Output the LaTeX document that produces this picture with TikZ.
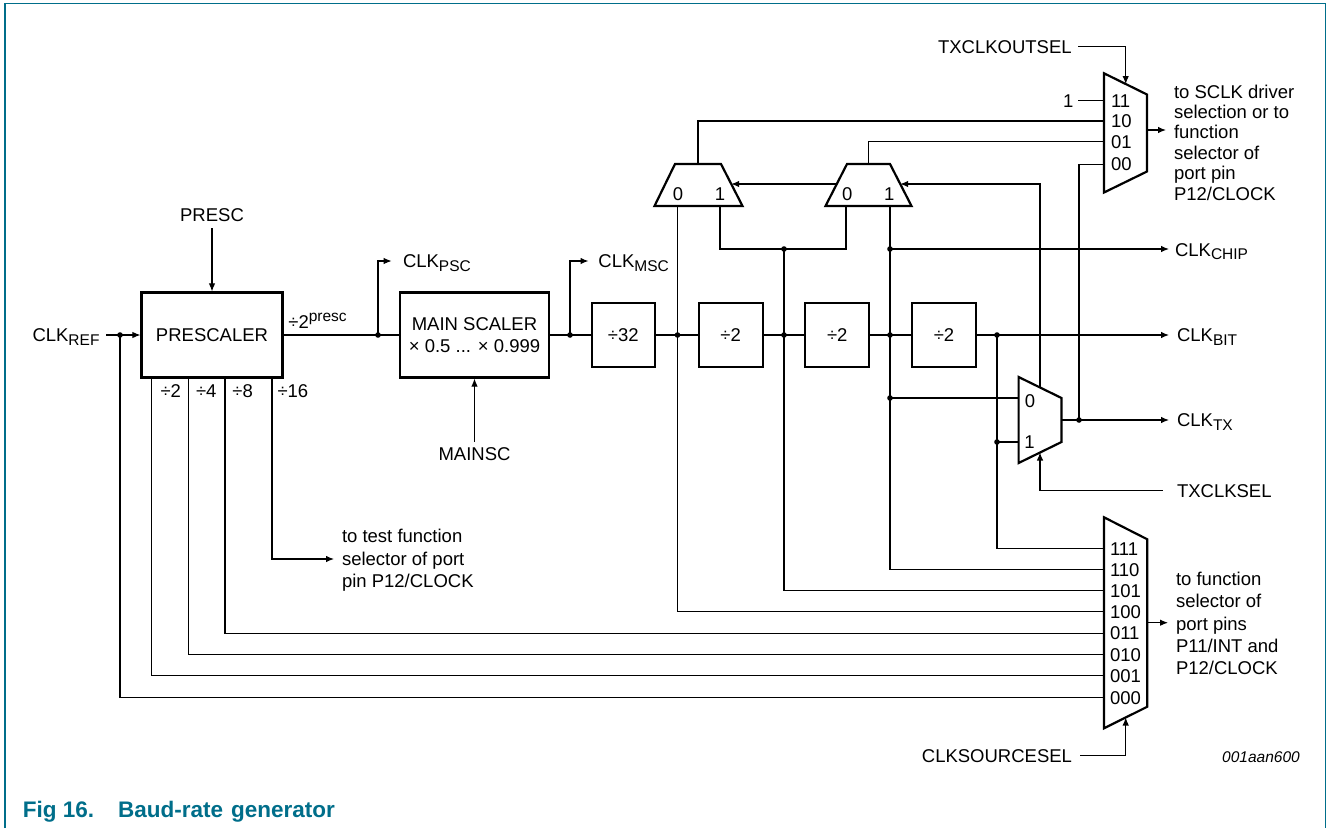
\documentclass[tikz,border=0pt]{standalone}
\usepackage{fontspec}
\setmainfont{Liberation Sans}
\usetikzlibrary{arrows.meta}
\definecolor{nxpteal}{RGB}{0,110,138}
\newcommand{\lsub}[1]{\raisebox{-3.5pt}{\fontsize{15.5}{16}\selectfont #1}}
\newcommand{\lsup}[1]{\raisebox{6.6pt}{\fontsize{15.5}{16}\selectfont #1}}
\begin{document}
\begin{tikzpicture}[x=1pt,y=-1pt,
  txt/.style={inner sep=0pt, outer sep=0pt, font=\fontsize{18.5}{22}\selectfont, text height=13.25pt, text depth=0pt},
  blk/.style={draw, line width=2.2pt, inner sep=0pt, font=\fontsize{18.5}{22}\selectfont},
  wire/.style={line width=1.1pt},
  arr/.style={wire, -{Latex[length=8pt,width=6.5pt]}},
  muxline/.style={draw, line width=2.2pt, line join=miter},
  jd/.style={fill=black}
]
\useasboundingbox (0,0) rectangle (1327,828);
% frame
\draw[nxpteal, line width=1.2pt] (5,828) -- (5,3.5) -- (1325.5,3.5) -- (1325.5,828);
\node[anchor=base west, inner sep=0pt, text=nxpteal, font=\bfseries\fontsize{22.5}{26}\selectfont] (cap) at (22.7,817) {Fig 16.\hspace{24pt}Baud-rate\hspace{8pt}generator};
\node[anchor=east, inner sep=0pt, font=\itshape\fontsize{15.5}{18}\selectfont, text height=11pt, text depth=0pt] (code) at (1300,757) {001aan600};

% blocks
\node[blk, minimum width=141pt, minimum height=85pt] (psc) at (212,335) {PRESCALER};
\node[blk, minimum width=149pt, minimum height=85pt, align=center] (msc) at (474.5,335) {MAIN SCALER\\× 0.5 ... × 0.999};
\node[blk, minimum width=63pt, minimum height=64pt] (d32) at (623.3,335) {÷32};
\node[blk, minimum width=64pt, minimum height=64pt] (d2a) at (730.7,335) {÷2};
\node[blk, minimum width=64pt, minimum height=64pt] (d2b) at (837.3,335) {÷2};
\node[blk, minimum width=64pt, minimum height=64pt] (d2c) at (944,335) {÷2};

% junctions
\coordinate (jref) at (120,335);
\coordinate (jpsc) at (378,335);
\coordinate (jmsc) at (570,335);
\coordinate (j1) at (677.5,335);
\coordinate (j2) at (784,335);
\coordinate (j3) at (890,335);
\coordinate (j4) at (997,335);
\coordinate (jc) at (784,249);
\coordinate (jchip) at (890,249);
\coordinate (jt0) at (890,398);
\coordinate (j5) at (997,442);
\coordinate (jtx) at (1079,420);

% mux A
\coordinate (mAtl) at (675,164); \coordinate (mAtr) at (721,164);
\coordinate (mAbr) at (742.5,206); \coordinate (mAbl) at (654.5,206);
\coordinate (mAo) at (698,164); \coordinate (mA0) at (677.5,206); \coordinate (mA1) at (720,206);
\coordinate (mAsel) at (731.2,184);
\draw[muxline] (mAtl) -- (mAtr) -- (mAbr) -- (mAbl) -- cycle;
\node[txt] (mA0l) at (678,194) {0};
\node[txt] (mA1l) at (720,194) {1};
% mux B
\coordinate (mBtl) at (847,164); \coordinate (mBtr) at (890,164);
\coordinate (mBbr) at (911.5,206); \coordinate (mBbl) at (825.5,206);
\coordinate (mBo) at (868.5,164); \coordinate (mB0) at (846,206); \coordinate (mB1) at (890,206);
\coordinate (mBselR) at (900.2,184); \coordinate (mBselL) at (836.8,184);
\draw[muxline] (mBtl) -- (mBtr) -- (mBbr) -- (mBbl) -- cycle;
\node[txt] (mB0l) at (847.3,194) {0};
\node[txt] (mB1l) at (889.3,194) {1};
% TX mux
\coordinate (mTtl) at (1018.6,377); \coordinate (mTtr) at (1061.5,398);
\coordinate (mTbr) at (1061.5,442); \coordinate (mTbl) at (1018.6,463);
\coordinate (mTi0) at (1018.6,398); \coordinate (mTi1) at (1018.6,442);
\coordinate (mTo) at (1061.5,420); \coordinate (mTsel) at (1040,452.5); \coordinate (mTtop) at (1040,387.5);
\draw[muxline] (mTtl) -- (mTtr) -- (mTbr) -- (mTbl) -- cycle;
\node[txt] (mT0l) at (1030,401) {0};
\node[txt] (mT1l) at (1029.5,441.5) {1};
% output mux (TXCLKOUTSEL)
\coordinate (mOtl) at (1104,73.3); \coordinate (mOtr) at (1147,94.5);
\coordinate (mObr) at (1147,171.5); \coordinate (mObl) at (1104,192.5);
\coordinate (o11) at (1104,100.7); \coordinate (o10) at (1104,121);
\coordinate (o01) at (1104,141.7); \coordinate (o00) at (1104,164.3);
\coordinate (oSel) at (1125.7,84); \coordinate (oOut) at (1147,130);
\draw[muxline] (mOtl) -- (mOtr) -- (mObr) -- (mObl) -- cycle;
\node[txt, anchor=west] (o11l) at (1111,100.7) {11};
\node[txt, anchor=west] (o10l) at (1111,121) {10};
\node[txt, anchor=west] (o01l) at (1111,141.7) {01};
\node[txt, anchor=west] (o00l) at (1111,164.3) {00};
% clock source mux
\coordinate (mCtl) at (1104,517.3); \coordinate (mCtr) at (1147.3,539.3);
\coordinate (mCbr) at (1147.3,706.7); \coordinate (mCbl) at (1104,728.3);
\coordinate (cs111) at (1104,548.5); \coordinate (cs110) at (1104,569.6);
\coordinate (cs101) at (1104,590.7); \coordinate (cs100) at (1104,611.9);
\coordinate (cs011) at (1104,633.3); \coordinate (cs010) at (1104,654.6);
\coordinate (cs001) at (1104,675.9); \coordinate (cs000) at (1104,697.4);
\coordinate (csSel) at (1125.7,717.5); \coordinate (csOut) at (1147.3,622.7);
\draw[muxline] (mCtl) -- (mCtr) -- (mCbr) -- (mCbl) -- cycle;
\node[txt, anchor=west] (c111) at (1110,548.5) {111};
\node[txt, anchor=west] (c110) at (1110,569.6) {110};
\node[txt, anchor=west] (c101) at (1110,590.7) {101};
\node[txt, anchor=west] (c100) at (1110,611.9) {100};
\node[txt, anchor=west] (c011) at (1110,633.3) {011};
\node[txt, anchor=west] (c010) at (1110,654.6) {010};
\node[txt, anchor=west] (c001) at (1110,675.9) {001};
\node[txt, anchor=west] (c000) at (1110,697.4) {000};

% left labels and inputs
\node[txt, anchor=west] (clkref) at (32.5,335) {CLK\lsub{REF}};
\coordinate (refin) at (106,335);
\draw[arr] (refin) -- (psc.west);
\node[txt] (presc) at (212,215.3) {PRESC};
\coordinate (prescfrom) at (212,228.3);
\draw[arr] (prescfrom) -- (prescfrom |- psc.north);
\node[txt, anchor=west] (pscout) at (288.4,321.5) {÷2\lsup{presc}};
\node[txt] (mainsc) at (474.5,454) {MAINSC};
\coordinate (mainscfrom) at (474.5,441.7);
\draw[arr] (mainscfrom) -- (mainscfrom |- msc.south);

% main chain
\draw[wire] (psc.east) -- (msc.west);
\draw[wire] (msc.east) -- (d32.west);
\draw[wire] (d32.east) -- (d2a.west);
\draw[wire] (d2a.east) -- (d2b.west);
\draw[wire] (d2b.east) -- (d2c.west);
\coordinate (bittip) at (1169,335);
\draw[arr] (d2c.east) -- (bittip);
\node[txt, anchor=west] (clkbit) at (1177,335) {CLK\lsub{BIT}};

% CLK_PSC, CLK_MSC
\coordinate (psctip) at (391.6,261);
\draw[arr] (jpsc) |- (psctip);
\node[txt, anchor=west] (clkpsc) at (403,261) {CLK\lsub{PSC}};
\coordinate (msctip) at (588.5,261);
\draw[arr] (jmsc) |- (msctip);
\node[txt, anchor=west] (clkmsc) at (598.4,261) {CLK\lsub{MSC}};

% prescaler taps
\coordinate (tap2) at (151.8,675.9);
\coordinate (tap4) at (188.6,654.6);
\coordinate (tap8) at (225,633.3);
\coordinate (testtip) at (334,559);
\coordinate (tap16) at (272,559);
\draw[wire] (tap2 |- psc.south) -- (tap2) -- (cs001);
\draw[wire] (tap4 |- psc.south) -- (tap4) -- (cs010);
\draw[wire] (tap8 |- psc.south) -- (tap8) -- (cs011);
\draw[arr] (tap16 |- psc.south) -- (tap16) -- (testtip);
\node[txt, anchor=west] (dv2) at (160.5,390.7) {÷2};
\node[txt, anchor=west] (dv4) at (196,390.7) {÷4};
\node[txt, anchor=west] (dv8) at (232.4,390.7) {÷8};
\node[txt, anchor=west] (dv16) at (277.5,390.7) {÷16};
\node[txt, anchor=west] (tst1) at (342,536) {to test function};
\node[txt, anchor=west] (tst2) at (342,558.5) {selector of port};
\node[txt, anchor=west] (tst3) at (342,581) {pin P12/CLOCK};

% clock source mux inputs
\draw[wire] (jref) |- (cs000);
\draw[wire] (mA0) |- (cs100);
\draw[wire] (jc) |- (cs101);
\draw[wire] (mB1) |- (cs110);
\draw[wire] (j4) |- (cs111);

% mux A / B wiring
\draw[wire] (mA1) -- (mA1 |- jc) -- (mB0 |- jc) -- (mB0);
\draw[wire] (mAo) |- (o10);
\draw[wire] (mBo) |- (o01);
\draw[arr] (mBselL) -- (mAsel);
\draw[arr] (mTtop) |- (mBselR);
\coordinate (chiptip) at (1169,249);
\draw[arr] (jchip) -- (chiptip);
\node[txt, anchor=west] (clkchip) at (1175,249.5) {CLK\lsub{CHIP}};

% TX mux wiring
\draw[wire] (jt0) -- (mTi0);
\draw[wire] (j5) -- (mTi1);
\coordinate (txtip) at (1169,420);
\draw[arr] (mTo) -- (txtip);
\node[txt, anchor=west] (clktx) at (1177,420) {CLK\lsub{TX}};
\draw[wire] (jtx) |- (o00);
\coordinate (txsfrom) at (1162.6,490.7);
\draw[arr] (txsfrom) -| (mTsel);
\node[txt, anchor=west] (txclksel) at (1177,490.7) {TXCLKSEL};

% output mux
\node[txt] (one) at (1068.3,100.7) {1};
\coordinate (onefrom) at (1078.3,100.7);
\draw[wire] (onefrom) -- (o11);
\node[txt, anchor=east] (txoutsel) at (1071.7,46.7) {TXCLKOUTSEL};
\coordinate (toselfrom) at (1078.3,46.7);
\draw[arr] (toselfrom) -| (oSel);
\coordinate (oTip) at (1166,130);
\draw[arr] (oOut) -- (oTip);
\node[txt, anchor=west] (s1) at (1174,91.5) {to SCLK driver};
\node[txt, anchor=west] (s2) at (1174,111.9) {selection or to};
\node[txt, anchor=west] (s3) at (1174,132.3) {function};
\node[txt, anchor=west] (s4) at (1174,152.7) {selector of};
\node[txt, anchor=west] (s5) at (1174,173.1) {port pin};
\node[txt, anchor=west] (s6) at (1174,193.5) {P12/CLOCK};

% clock source mux select and output
\node[txt, anchor=east] (csel) at (1072,755.7) {CLKSOURCESEL};
\coordinate (cselfrom) at (1080,755.7);
\draw[arr] (cselfrom) -| (csSel);
\coordinate (csTip) at (1168,622.7);
\draw[arr] (csOut) -- (csTip);
\node[txt, anchor=west] (f1) at (1176,579) {to function};
\node[txt, anchor=west] (f2) at (1176,601.2) {selector of};
\node[txt, anchor=west] (f3) at (1176,623.4) {port pins};
\node[txt, anchor=west] (f4) at (1176,645.6) {P11/INT and};
\node[txt, anchor=west] (f5) at (1176,667.8) {P12/CLOCK};

% junction dots
\foreach \p in {jref,jpsc,jmsc,j1,j2,j3,j4,jc,jchip,jt0,j5,jtx}
  \fill[jd] (\p) circle (2.8pt);
\end{tikzpicture}
\end{document}
